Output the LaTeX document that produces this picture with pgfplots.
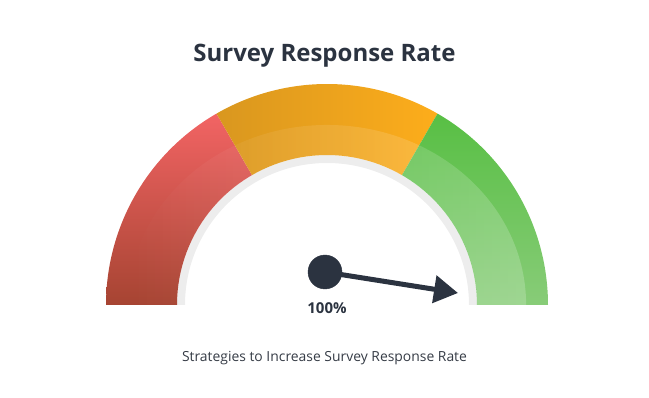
\documentclass[border=0pt]{standalone}
\usepackage{pgfplots}
\pgfplotsset{compat=1.18}
\usepackage{fontspec}
\setmainfont{Open Sans}
\usetikzlibrary{calc,fadings,arrows.meta}
\definecolor{needle}{HTML}{2B3340}
\definecolor{subgray}{HTML}{353B45}
\definecolor{track}{HTML}{EDEDED}
\definecolor{redtop}{HTML}{F26464}
\definecolor{redbot}{HTML}{A64432}
\definecolor{orleft}{HTML}{D9971F}
\definecolor{orright}{HTML}{FDAD1B}
\definecolor{grtop}{HTML}{58BF44}
\definecolor{grbot}{HTML}{88CC78}
\tikzfading[name=gaugefade, left color=transparent!100, middle color=transparent!0, right color=transparent!0]
% annular sector: start angle, end angle, outer r, inner r
\newcommand{\sector}[4]{($(C)+(#1:#3pt)$) arc[start angle=#1, end angle=#2, radius=#3pt] -- ($(C)+(#2:#4pt)$) arc[start angle=#2, end angle=#1, radius=#4pt] -- cycle}
\begin{document}
\begin{tikzpicture}
\begin{axis}[x=1pt, y=1pt, xmin=0, xmax=649, ymin=0, ymax=397, hide axis, clip=false]
\coordinate (C) at (axis cs:327,92);
\path (axis cs:0,0) -- (axis cs:649,397);
% background track
\fill[track] \sector{0}{180}{150}{142};
% segments (0-33.3%, 33.3-66.7%, 66.7-100%)
\shade[top color=redtop, bottom color=redbot] \sector{120}{180}{221}{150};
\shade[left color=orleft, right color=orright] \sector{60}{120}{221}{150};
\shade[top color=grtop, bottom color=grbot] \sector{0}{60}{221}{150};
% lighter inner band
\fill[white, fill opacity=0.2, path fading=gaugefade]
  ($(C)+(0:199pt)$) arc[start angle=0, end angle=180, x radius=199pt, y radius=180pt]
  -- ($(C)+(180:150pt)$) arc[start angle=180, end angle=0, radius=150pt] -- cycle;
% needle (value 100%)
\addplot[needle, line width=5pt, -{Triangle[length=24pt, width=27pt]}] coordinates {(325,125) (458,104)};
\addplot[only marks, mark=*, mark size=17pt, needle] coordinates {(325,125)};
\node[anchor=base, font=\fontsize{15}{18}\selectfont\bfseries, text=needle] at (axis cs:327,84) {100\%};
% titles
\node[anchor=base, font=\fontsize{24}{28}\selectfont\bfseries, text=needle] at (axis cs:324.5,335) {Survey Response Rate};
\node[anchor=base, font=\fontsize{13.9}{16}\selectfont, text=subgray] at (axis cs:324.5,36) {Strategies to Increase Survey Response Rate};
\end{axis}
\end{tikzpicture}
\end{document}
